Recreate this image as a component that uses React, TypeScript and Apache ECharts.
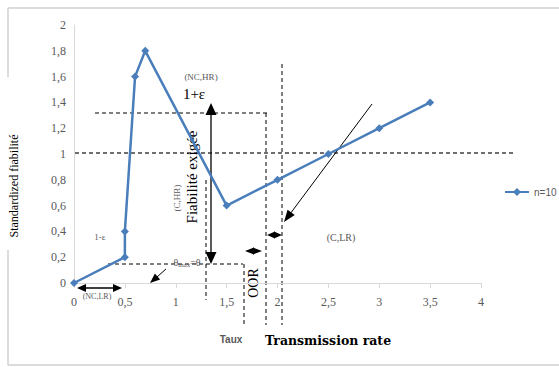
import React, { useEffect, useRef } from "react";
import * as echarts from "echarts";

const xValues = [0, 0.5, 0.5, 0.6, 0.7, 1.5, 2, 2.5, 3, 3.5];
const yValues = [0, 0.2, 0.4, 1.6, 1.8, 0.6, 0.8, 1.0, 1.2, 1.4];
const seriesName = "n=10";
const fmt = (v: number) => String(v).replace(".", ",");

const BLUE = "#4A7EBB";
const GRAY = "#595959";

function head(tip: [number, number], from: [number, number], len: number, w: number) {
  const dx = tip[0] - from[0];
  const dy = tip[1] - from[1];
  const L = Math.hypot(dx, dy);
  const ux = dx / L, uy = dy / L;
  const bx = tip[0] - ux * len, by = tip[1] - uy * len;
  const px = -uy * (w / 2), py = ux * (w / 2);
  return {
    type: "polygon",
    shape: { points: [tip, [bx + px, by + py], [bx - px, by - py]] },
    style: { fill: "#000" },
    silent: true,
  };
}
function line(x1: number, y1: number, x2: number, y2: number, dash?: number[], color = "#000", w = 1) {
  return {
    type: "line",
    shape: { x1, y1, x2, y2 },
    style: { stroke: color, lineWidth: w, lineDash: dash || null },
    silent: true,
  };
}
function text(x: number, y: number, t: string, size: number, opts: any = {}) {
  return {
    type: "text",
    x,
    y,
    rotation: opts.rotation || 0,
    style: {
      text: t,
      fontSize: size,
      fontFamily: opts.font || "Liberation Serif",
      fontWeight: opts.weight || "normal",
      fill: opts.color || "#000",
      align: "center",
      verticalAlign: "middle",
    },
    silent: true,
  };
}

export default function App() {
  const ref = useRef<HTMLDivElement>(null);
  useEffect(() => {
    const chart = echarts.init(ref.current!, null, { renderer: "svg" });
    const D = [4, 3];
    const graphic: any[] = [
      // outer border
      line(8, 8, 559, 8, undefined, "#d0d0d0", 1.5),
      line(8, 365, 559, 365, undefined, "#d0d0d0", 1.5),
      line(8, 8, 8, 77, undefined, "#d0d0d0", 1.5),
      line(8, 250, 8, 365, undefined, "#d0d0d0", 1.5),
      // y = 1 dashed reference
      line(75, 153, 515, 153, [4, 3], "#404040", 1.5),
      // 1+eps dashed
      line(95, 113, 267, 113, D),
      line(266, 113, 266, 325, D),
      line(282, 64, 282, 325, D),
      // theta dashed
      line(108, 264, 243, 264, D),
      line(244, 264, 244, 325, D),
      line(206, 180, 206, 300, D),
      // required reliability arrow
      line(211, 114, 211, 253, undefined, "#000", 1.3),
      head([211, 103], [211, 200], 12, 11),
      head([211, 264], [211, 150], 12, 11),
      // diagonal arrow
      line(372, 104, 290, 214, undefined, "#000", 1),
      head([284, 222], [372, 104], 12, 9),
      // small theta arrow
      line(166, 269, 157, 277, undefined, "#000", 1),
      head([150, 283], [166, 269], 10, 8),
      // (NC,LR) double arrow
      line(84, 288, 115, 288, undefined, "#000", 1.5),
      head([77, 288], [120, 288], 9, 8),
      head([122, 288], [77, 288], 9, 8),
      // small double arrows
      head([245, 251], [262, 251], 9, 7),
      head([262, 251], [245, 251], 9, 7),
      head([267, 235], [282, 235], 8, 7),
      head([282, 235], [267, 235], 8, 7),
      // texts
      text(201, 77, "(NC,HR)", 9, { color: GRAY }),
      text(194, 94, "1+ε", 15),
      text(177, 198, "(C,HR)", 9, { rotation: Math.PI / 2, color: GRAY }),
      text(192, 177, "Fiabilité exigée", 15, { rotation: Math.PI / 2 }),
      text(100, 237, "1-ε", 9, { color: GRAY }),
      {
        type: "text",
        x: 187,
        y: 262,
        style: {
          text: "{a|θ}{s|max}{a|=θ}",
          align: "center",
          verticalAlign: "middle",
          fill: GRAY,
          rich: {
            a: { fontSize: 10, fontFamily: "Liberation Serif", fill: GRAY },
            s: { fontSize: 7, fontFamily: "Liberation Serif", fill: GRAY, padding: [6, 0, 0, 0] },
          },
        },
        silent: true,
      },
      text(97, 296, "(NC,LR)", 8, { color: GRAY }),
      text(253, 283, "OOR", 14, { rotation: Math.PI / 2 }),
      text(341, 237, "(C,LR)", 10, { color: GRAY }),
      text(231, 339, "Taux", 10, { color: GRAY, weight: "bold", font: "Liberation Sans Narrow, Liberation Sans" }),
      text(328, 340, "Transmission rate", 12.5, { weight: "bold", font: "DejaVu Serif" }),
      text(14, 186, "Standardized fiabilité", 12, { rotation: Math.PI / 2 }),
    ];

    chart.setOption({
      animation: false,
      grid: { left: 74, right: 78, top: 25, bottom: 84 },
      legend: {
        data: [seriesName],
        left: 499,
        top: 182,
        itemWidth: 24,
        itemHeight: 10,
        textStyle: { fontSize: 10, color: GRAY, fontFamily: "Liberation Sans" },
      },
      xAxis: {
        type: "value",
        min: 0,
        max: 4,
        interval: 0.5,
        splitLine: { show: false },
        axisLine: { show: true, lineStyle: { color: "#d9d9d9", width: 1 } },
        axisTick: { show: true, length: 5, lineStyle: { color: "#d9d9d9" } },
        axisLabel: {
          color: GRAY,
          fontSize: 12,
          fontFamily: "Liberation Serif",
          margin: 13,
          formatter: (v: number) => fmt(v),
        },
      },
      yAxis: {
        type: "value",
        min: 0,
        max: 2,
        interval: 0.2,
        splitLine: { show: false },
        axisLine: { show: true, lineStyle: { color: "#d9d9d9", width: 1 } },
        axisTick: { show: false },
        axisLabel: {
          color: GRAY,
          fontSize: 12,
          fontFamily: "Liberation Serif",
          margin: 8,
          formatter: (v: number) => fmt(Math.round(v * 10) / 10),
        },
      },
      series: [
        {
          name: seriesName,
          type: "line",
          data: xValues.map((x, i) => [x, yValues[i]]),
          symbol: "diamond",
          symbolSize: 8,
          lineStyle: { color: BLUE, width: 2.5 },
          itemStyle: { color: BLUE },
        },
      ],
      graphic,
    });
    return () => chart.dispose();
  }, []);
  return (
    <div
      ref={ref}
      style={{ position: "fixed", left: 0, top: 0, width: 559, height: 367, background: "#fff" }}
    />
  );
}
